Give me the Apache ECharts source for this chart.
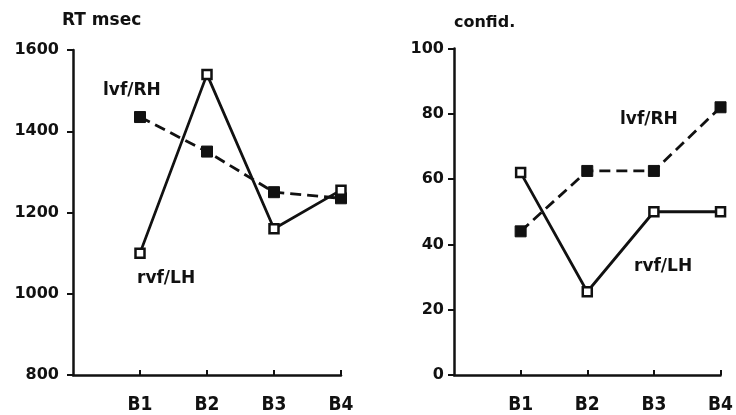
<!DOCTYPE html>
<html><head><meta charset="utf-8">
<script src="https://cdn.jsdelivr.net/npm/echarts@6/dist/echarts.min.js"></script>
<style>html,body{margin:0;padding:0;background:#fff}#c{width:736px;height:415px}</style>
</head><body><div id="c"></div>
<script>
// ---- data ----
const categories = ['', 'B1', 'B2', 'B3', 'B4'];
const rtLvfRH = [null, 1435, 1350, 1250, 1235];
const rtRvfLH = [null, 1100, 1540, 1160, 1255];
const confLvfRH = [null, 44, 62.5, 62.5, 82];
const confRvfLH = [null, 62, 25.5, 50, 50];
const rtTicks = { min: 800, max: 1600, step: 200 };
const confTicks = { min: 0, max: 100, step: 20 };
const leftTitle = 'RT msec';
const rightTitle = 'confid.';
const labelLvf = 'lvf/RH';
const labelRvf = 'rvf/LH';

// ---- styles ----
const INK = '#111';
const numFont = { fontFamily: 'DejaVu Sans', fontWeight: 'bold', fontSize: 16, color: INK };
const catFont = { fontFamily: "'Liberation Sans Narrow', 'DejaVu Sans Condensed', sans-serif", fontWeight: 'bold', fontSize: 19, color: INK };

function xAx(gi) {
  return {
    type: 'category', gridIndex: gi, data: categories, boundaryGap: false,
    axisLine: { lineStyle: { color: INK, width: 2.5 } },
    axisTick: { inside: true, length: 5, interval: (i) => i > 0, lineStyle: { color: INK, width: 2 } },
    axisLabel: Object.assign({ interval: 0, margin: 21 }, catFont),
    splitLine: { show: false }
  };
}
function yAx(gi, t, margin) {
  return {
    type: 'value', gridIndex: gi, min: t.min, max: t.max, interval: t.step,
    axisLine: { show: true, lineStyle: { color: INK, width: 2.5 } },
    axisTick: { show: true, length: 6, lineStyle: { color: INK, width: 2 } },
    axisLabel: Object.assign({ margin: margin, formatter: (v) => String(v) }, numFont),
    splitLine: { show: false }
  };
}
function lvf(gi, data) {
  return {
    type: 'line', xAxisIndex: gi, yAxisIndex: gi, data: data,
    symbol: 'rect', symbolSize: 11, showAllSymbol: true,
    itemStyle: { color: INK, borderColor: INK, borderWidth: 1 },
    lineStyle: { color: INK, width: 2.8, type: [11, 6] },
    emphasis: { disabled: true }, z: 2
  };
}
function rvf(gi, data) {
  return {
    type: 'line', xAxisIndex: gi, yAxisIndex: gi, data: data,
    symbol: 'rect', symbolSize: 9, showAllSymbol: true,
    itemStyle: { color: '#fff', borderColor: INK, borderWidth: 2.5 },
    lineStyle: { color: INK, width: 2.8, type: 'solid' },
    emphasis: { disabled: true }, z: 3
  };
}
function txt(x, y, s, size) {
  return { type: 'text', silent: true, style: { x: x, y: y, text: s, verticalAlign: 'middle', align: 'left',
    font: 'bold ' + (size || 16) + 'px "DejaVu Sans"', fill: INK } };
}

const chart = echarts.init(document.getElementById('c'), null, { renderer: 'canvas' });
chart.setOption({
  animation: false,
  backgroundColor: '#fff',
  grid: [
    { left: 73, top: 50, width: 268, height: 326 },
    { left: 454, top: 48.5, width: 271, height: 326.5 }
  ],
  xAxis: [xAx(0), xAx(1)],
  yAxis: [yAx(0, rtTicks, 14), yAx(1, confTicks, 10)],
  series: [lvf(0, rtLvfRH), rvf(0, rtRvfLH), lvf(1, confLvfRH), rvf(1, confRvfLH)],
  graphic: [
    txt(62, 21, leftTitle, 17),
    txt(454, 23, rightTitle, 16),
    txt(103, 91, labelLvf, 17),
    txt(137, 279, labelRvf, 17),
    txt(620, 120, labelLvf, 17),
    txt(634, 267, labelRvf, 17)
  ]
});
</script></body></html>
